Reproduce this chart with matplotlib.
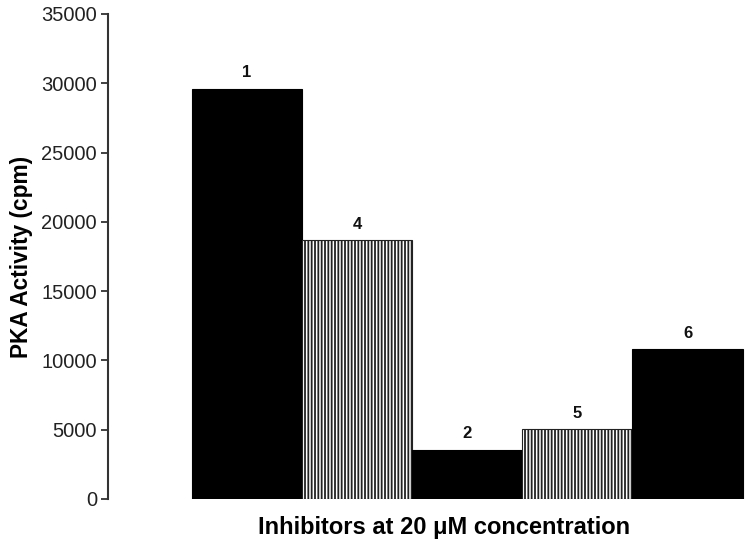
import matplotlib
matplotlib.use("Agg")
import matplotlib.pyplot as plt

plt.rcParams['font.family'] = ['Liberation Sans', 'DejaVu Sans']
plt.rcParams['hatch.linewidth'] = 1.3

# data
compounds = ['1', '4', '2', '5', '6']
activity = [29600, 18700, 3550, 5050, 10800]
hatched = [False, True, False, True, False]

fig = plt.figure(figsize=(7.51, 5.46), dpi=100)
ax = fig.add_axes([0.1438, 0.0861, 0.848, 0.8883])

for i, (name, val, h) in enumerate(zip(compounds, activity, hatched)):
    if h:
        ax.bar(i, val, width=1.0, color='white', edgecolor='#222222',
               hatch='|||||', linewidth=0.8)
    else:
        ax.bar(i, val, width=1.0, color='black', edgecolor='black', linewidth=0.8)
    ax.text(i, val + 600, name, ha='center', va='bottom',
            fontsize=12, fontweight='bold', color='#111111')

ax.set_xlim(-1.26, 4.52)
ax.set_ylim(0, 35000)
ax.set_yticks(range(0, 35001, 5000))
ax.set_xticks([])

for s in ['top', 'right', 'bottom']:
    ax.spines[s].set_visible(False)
ax.spines['left'].set_color('#333333')
ax.spines['left'].set_linewidth(1.5)
ax.tick_params(axis='y', length=5, width=1.3, color='#333333',
               labelsize=14.5, labelcolor='#222222', pad=3)

ax.set_ylabel('PKA Activity (cpm)', fontsize=16.3, fontweight='bold', labelpad=6)
ax.set_xlabel('Inhibitors at 20 \u03bcM concentration', fontsize=17,
              fontweight='bold')
ax.xaxis.set_label_coords(0.527, -0.035, transform=ax.transAxes)
ax.xaxis.label.set_va('top')

plt.savefig('out.png', dpi=100)
plt.close()
